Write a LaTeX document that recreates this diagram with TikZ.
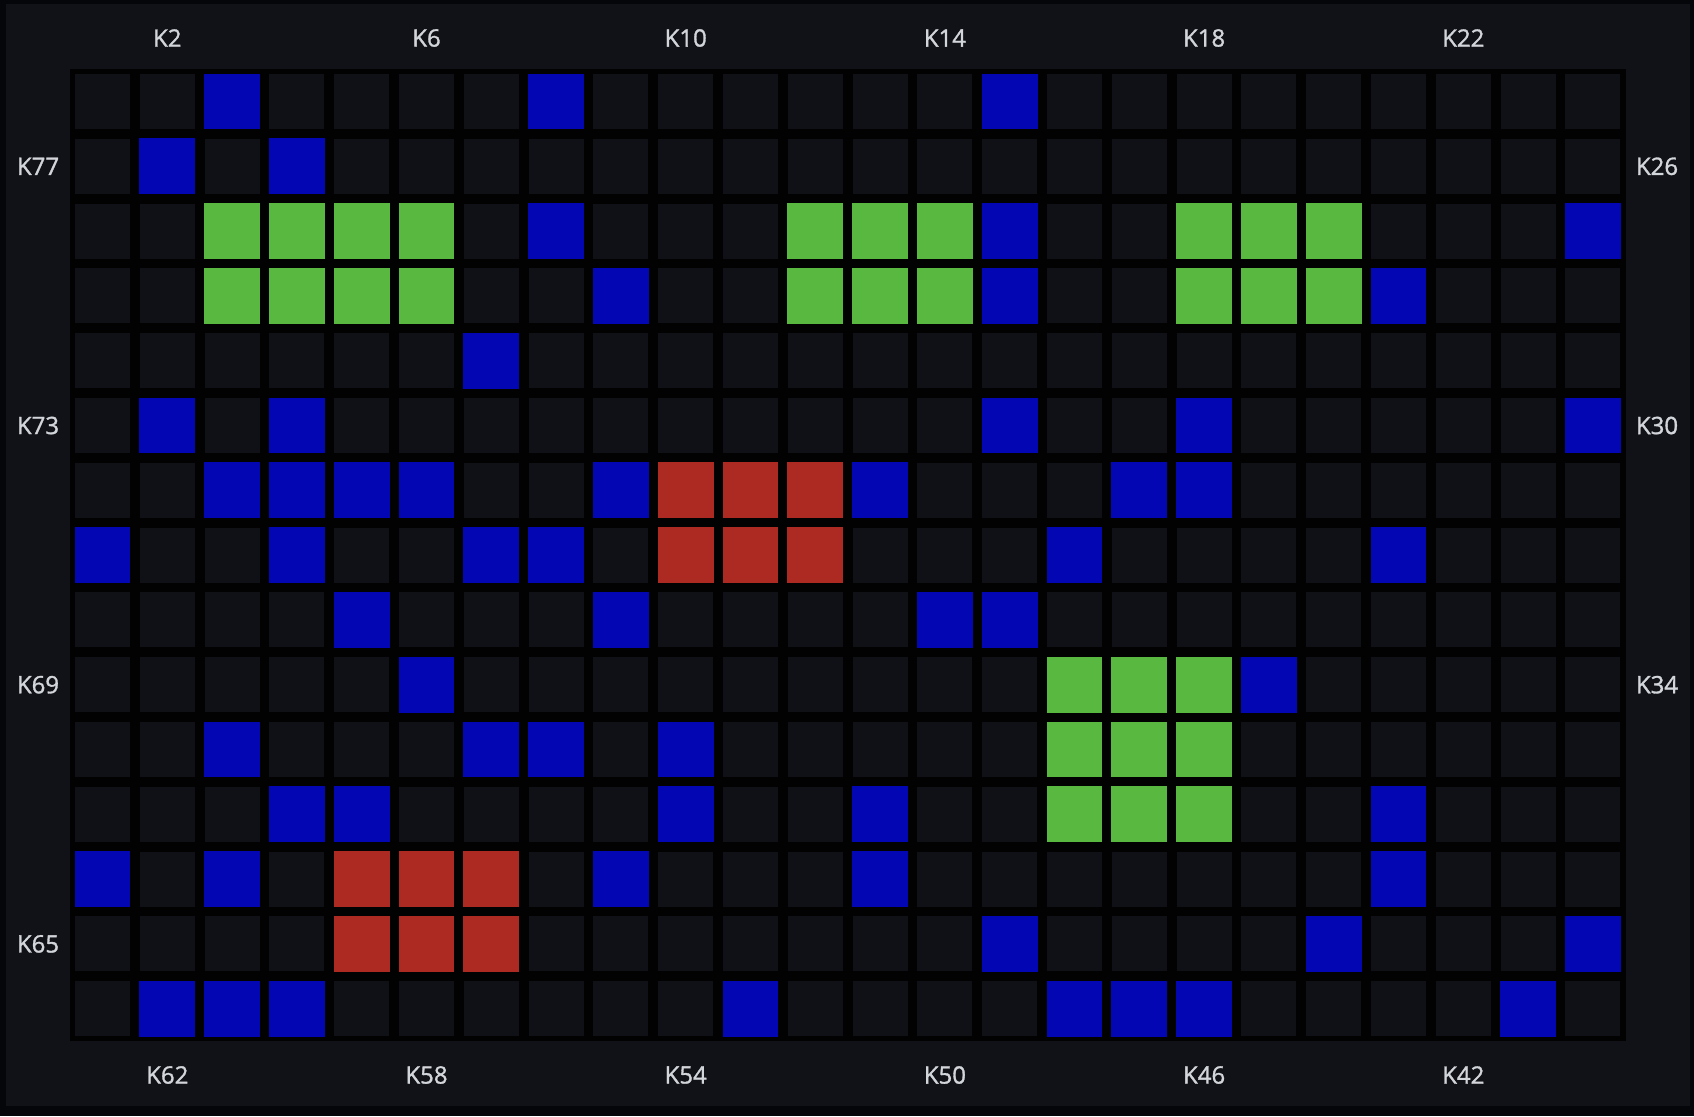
\documentclass[tikz,border=0pt]{standalone}
\usepackage{fontspec}
\setmainfont{Open Sans}
\newfontfamily\keyfont{Open Sans}[FakeBold=1.3]
\usepackage{tikz}
\usetikzlibrary{calc}
\definecolor{boardEdge}{RGB}{5,6,10}
\definecolor{boardPanel}{RGB}{17,18,23}
\definecolor{boardGrid}{RGB}{2,2,3}
\definecolor{cellOff}{RGB}{16,17,22}
\definecolor{cellBlue}{RGB}{3,6,179}
\definecolor{cellGreen}{RGB}{88,184,64}
\definecolor{cellRed}{RGB}{172,42,34}
\definecolor{keyText}{RGB}{210,213,218}

\begin{document}
\begin{tikzpicture}[x=0.5pt,y=-0.5pt,
  cell/.style={rectangle, inner sep=0pt, minimum size=27.5pt, fill=cellOff},
  keylabel/.style={text=keyText, inner sep=0pt, font=\keyfont\fontsize{12}{14}\selectfont}]
\pgfmathsetmacro{\pitch}{64.8}
\fill[boardEdge] (0,0) rectangle (1694,1116);
\useasboundingbox (0,0) rectangle (1694,1116);
\fill[boardPanel] (6,4) rectangle (1690,1106);
\fill[boardGrid] (70,69) rectangle (1626,1041);
\foreach \r in {1,...,15}
  \foreach \c in {1,...,24}
    \node[cell] (k-\r-\c) at ({102.5+\pitch*(\c-1)},{101.5+\pitch*(\r-1)}) {};
\foreach \r/\c in {1/3,1/8,1/15, 2/2,2/4, 3/8,3/15,3/24, 4/9,4/15,4/21, 5/7,
    6/2,6/4,6/15,6/18,6/24, 7/3,7/4,7/5,7/6,7/9,7/13,7/17,7/18,
    8/1,8/4,8/7,8/8,8/16,8/21, 9/5,9/9,9/14,9/15, 10/6,10/19,
    11/3,11/7,11/8,11/10, 12/4,12/5,12/10,12/13,12/21, 13/1,13/3,13/9,13/13,13/21,
    14/15,14/20,14/24, 15/2,15/3,15/4,15/11,15/16,15/17,15/18,15/23}
  \fill[cellBlue] (k-\r-\c.north west) rectangle (k-\r-\c.south east);
\foreach \r in {3,4}
  \foreach \c in {3,4,5,6,12,13,14,18,19,20}
    \fill[cellGreen] (k-\r-\c.north west) rectangle (k-\r-\c.south east);
\foreach \r in {10,11,12}
  \foreach \c in {16,17,18}
    \fill[cellGreen] (k-\r-\c.north west) rectangle (k-\r-\c.south east);
\foreach \r in {7,8}
  \foreach \c in {10,11,12}
    \fill[cellRed] (k-\r-\c.north west) rectangle (k-\r-\c.south east);
\foreach \r in {13,14}
  \foreach \c in {5,6,7}
    \fill[cellRed] (k-\r-\c.north west) rectangle (k-\r-\c.south east);
\foreach \c/\t in {2/K2,6/K6,10/K10,14/K14,18/K18,22/K22}
  \node[keylabel] (top-\c) at ({102.5+\pitch*(\c-1)},38) {\t};
\foreach \c/\t in {2/K62,6/K58,10/K54,14/K50,18/K46,22/K42}
  \node[keylabel] (bottom-\c) at ({102.5+\pitch*(\c-1)},1075) {\t};
\foreach \r/\t in {2/K77,6/K73,10/K69,14/K65}
  \node[keylabel] (left-\r) at (38,{101.5+\pitch*(\r-1)}) {\t};
\foreach \r/\t in {2/K26,6/K30,10/K34}
  \node[keylabel] (right-\r) at (1657,{101.5+\pitch*(\r-1)}) {\t};
\end{tikzpicture}
\end{document}
